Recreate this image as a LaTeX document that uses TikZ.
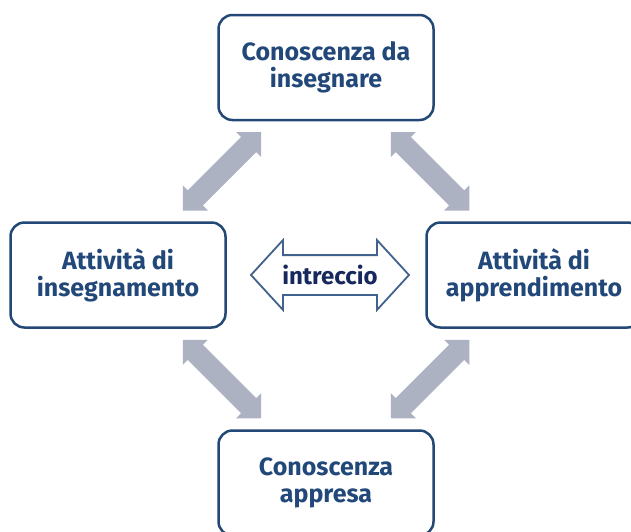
\documentclass[tikz,border=0pt]{standalone}
\usepackage{fontspec}
\setmainfont{Fira Sans}
\usepackage{xcolor}
\usepackage{tikz}
\usetikzlibrary{shapes,arrows,positioning,calc}
\definecolor{boxblue}{RGB}{36,72,118}
\definecolor{textblue}{RGB}{34,72,122}
\definecolor{darknavy}{RGB}{22,40,92}
\definecolor{weaveblue}{RGB}{66,98,142}
\definecolor{linkgray}{RGB}{172,178,194}
\tikzset{concept-node/.style={draw=boxblue, line width=2.5pt, rounded corners=14pt, fill=white, minimum width=215pt, minimum height=105pt, inner sep=0, align=center, text=textblue, font=\fontsize{25}{27}\selectfont\bfseries}}
\tikzset{link-arrow/.style={
        double arrow,
        fill=linkgray,
        minimum height=111pt,
        inner xsep=0pt,
        inner ysep=10.5pt,
        double arrow tip angle=90,
        double arrow head extend=7pt
    }
}
\tikzset{weave-arrow/.style={
        double arrow,
        draw=weaveblue,
        line width=1.8pt,
        fill=white,
        minimum height=158pt,
        inner xsep=0pt,
        inner ysep=19pt,
        double arrow tip angle=95,
        double arrow head extend=15pt
    }
}

\begin{document}
\begin{tikzpicture}[x=1pt, y=1pt]
            \clip (0,0) rectangle (631,-531);

            \node[concept-node] (node1) at (326,-67.5) {Conoscenza da\\insegnare};

            \node[concept-node, below=100pt of node1, xshift=-208pt] (node2) {Attività di\\insegnamento};
            \node[concept-node, below=100pt of node1, xshift=208pt] (node4) {Attività di\\apprendimento};
            \node[concept-node, below=308pt of node1] (node3) {Conoscenza\\appresa};

            \node[link-arrow, rotate=45] (link1) at ($(node1.south west)!0.5!(node2.north east)$) {};
            \node[link-arrow, rotate=-45] (link2) at ($(node1.south east)!0.5!(node4.north west)$) {};
            \node[link-arrow, rotate=-45] (link3) at ($(node2.south east)!0.5!(node3.north west)$) {};
            \node[link-arrow, rotate=45] (link4) at ($(node4.south west)!0.5!(node3.north east)$) {};

            \node[weave-arrow, xshift=4pt] (weave) at ($(node2.east)!0.5!(node4.west)$) {};
            \node[text=darknavy, font=\fontsize{24}{26}\selectfont\bfseries] (weavetext) at (weave.center) {intreccio};

        \end{tikzpicture}
\end{document}
